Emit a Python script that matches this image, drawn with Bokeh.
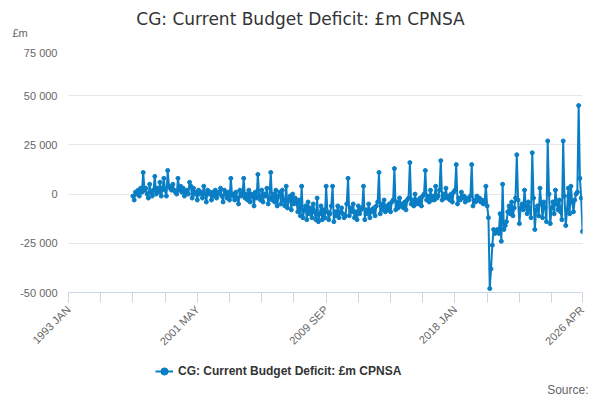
from bokeh.plotting import figure
from bokeh.layouts import column
from bokeh.models import FixedTicker, Legend, LegendItem, Label, CustomJSTickFormatter
from bokeh.embed import file_html
from bokeh.resources import INLINE

# monthly values (thousands of £m), Mar 1997 .. Apr 2026
start_year, start_month = 1997, 3
y1997 = [-1, -3, 1, 0, 2, -1, 3, 1, 11, 2]
y1998 = [3, 0, -2, 5, 1, -1, 2, 9, 0, 3, 1, 6]
y1999 = [-1, 3, 8, 2, -1, 12, 4, 3, 2, 5, 2, 1]
y2000 = [0, 8, 2, 4, 1, 3, -1, 1, 2, 0, 6, 4]
y2001 = [-2, 3, 0, 1, -3, 2, 0, 1, -2, 4, 0, -4]
y2002 = [2, 0, 1, -3, 1, -1, 2, -2, 0, 1, 3, -1]
y2003 = [-4, 2, 0, -2, 1, -3, 8, -1, 0, -3, 1, -2]
y2004 = [-5, 2, -1, 0, 8, -2, 0, -3, 2, -4, 0, -1]
y2005 = [-6, 1, -2, 10, -1, -3, 2, -4, 0, -1, 3, -5]
y2006 = [-2, 11, -3, 0, -4, 2, -6, -1, 1, -5, 2, -3]
y2007 = [-6, 4, -7, -3, -1, -8, 0, -5, -2, -4, -9, -3]
y2008 = [-11, 4, -12, -8, -6, -13, -4, -10, -7, -12, -5, -9]
y2009 = [-13, -2, -14, -10, -6, -13, -8, -12, 4, -9, -13, -10]
y2010 = [-6, 4, -14, -9, -11, -6, -12, -9, -7, -10, -12, -11]
y2011 = [-5, 8, -11, -7, -9, -5, -12, -9, -13, -6, -10, -8]
y2012 = [-7, 4, -13, -8, -10, -5, -12, -8, -9, -7, -11, -6]
y2013 = [-4, 11, -10, -5, -8, -3, -9, -6, -8, -5, -9, -4]
y2014 = [-3, 13, -8, -4, -7, -2, -6, -5, -7, -4, -8, -3]
y2015 = [-2, 16, -5, -3, -6, 0, -5, -3, -5, -2, -6, -1]
y2016 = [0, 12, -3, -1, -4, 2, -3, -1, -3, 4, -2, -1]
y2017 = [2, 17, -3, 0, -2, 3, -2, -1, -3, 0, -4, 1]
y2018 = [2, 15, -5, -2, -3, 1, -2, -1, -4, -2, -3, -3]
y2019 = [-1, 15, -6, -3, -4, -1, -3, -2, -4, -3, -5, -4]
y2020 = [4, -6, -12, -48, -38, -26, -18, -20, -19, -18, -20, -10]
y2021 = [-24, 5, -18, -16, -14, -9, -6, -10, -4, -11, -7, -2]
y2022 = [20, -3, -15, -7, -5, -8, 2, -6, -10, -4, -8, -12]
y2023 = [21, -2, -18, -8, -6, -11, 3, -5, -12, -4, -7, -14]
y2024 = [27, 0, -15, -7, -4, -10, 2, -5, -8, -3, -9, -13]
y2025 = [27, -1, -16, -8, 3, -10, 4, -4, -9, -3, 0, 1]
y2026 = [45, 8, -2, -19]

series = (y1997 + y1998 + y1999 + y2000 + y2001 + y2002 + y2003 + y2004 + y2005 + y2006
          + y2007 + y2008 + y2009 + y2010 + y2011 + y2012 + y2013 + y2014 + y2015
          + y2016 + y2017 + y2018 + y2019 + y2020 + y2021 + y2022 + y2023 + y2024
          + y2025 + y2026)
values = [v * 1000 for v in series]

tick_labels = {0: "1993 JAN", 100: "2001 MAY", 200: "2009 SEP", 300: "2018 JAN", 399: "2026 APR"}
offset = (start_year - 1993) * 12 + (start_month - 1)
xs = [offset + i for i in range(len(values))]

blue = "#0a7ec4"


def strip(height):
    f = figure(width=600, height=height, x_range=(0, 1), y_range=(0, 1), output_backend="svg",
               toolbar_location=None, min_border=0, frame_align=False)
    f.axis.visible = False
    f.grid.grid_line_color = None
    f.outline_line_color = None
    return f


# title strip
top = strip(46)
top.add_layout(Label(x=300, y=28, x_units="screen", y_units="screen",
                     text="CG: Current Budget Deficit: £m CPNSA", text_align="center",
                     text_baseline="middle", text_font="DejaVu Sans", text_font_size="17px",
                     text_color="#333333"))
top.add_layout(Label(x=12, y=14, x_units="screen", y_units="screen", text="£m",
                     text_baseline="middle", text_font_size="11px", text_color="#666666"))

p = figure(width=600, height=314, x_range=(0, 399), y_range=(-50000, 75000),
           output_backend="svg", toolbar_location=None, frame_align=False,
           min_border_left=68, min_border_right=18, min_border_top=0, min_border_bottom=68)

p.line(xs, values, line_color=blue, line_width=2)
p.scatter(xs, values, size=4, color=blue)

p.xaxis.ticker = FixedTicker(ticks=list(tick_labels.keys()), minor_ticks=list(range(0, 400, 25)))
p.xaxis.major_label_overrides = tick_labels
p.xaxis.major_label_orientation = 0.785
p.xaxis.major_label_text_color = "#666666"
p.xaxis.major_label_text_font_size = "11px"
p.xaxis.axis_line_color = "#ccd6eb"
p.xaxis.major_tick_line_color = "#ccd6eb"
p.xaxis.minor_tick_line_color = "#ccd6eb"
p.xaxis.minor_tick_out = 10
p.xaxis.major_tick_out = 10
p.xaxis.minor_tick_in = 0
p.xaxis.major_tick_in = 0
p.xgrid.grid_line_color = None

p.yaxis.ticker = FixedTicker(ticks=[-50000, -25000, 0, 25000, 50000, 75000])
p.yaxis.formatter = CustomJSTickFormatter(code="return tick.toString().replace(/\\B(?=(\\d{3})+(?!\\d))/g, ' ');")
p.yaxis.major_label_text_color = "#666666"
p.yaxis.major_label_text_font_size = "11px"
p.yaxis.axis_line_color = None
p.yaxis.major_tick_line_color = None
p.yaxis.minor_tick_line_color = None
p.ygrid.grid_line_color = "#e6e6e6"
p.outline_line_color = None

# legend strip underneath
lf = strip(40)
l1 = lf.line([-5, -4], [-5, -4], line_color=blue, line_width=2)
l2 = lf.scatter([-5], [-5], size=4, color=blue)
legend = Legend(items=[LegendItem(label="CG: Current Budget Deficit: £m CPNSA", renderers=[l1, l2])],
                location=(155, 19), orientation="horizontal", border_line_color=None,
                background_fill_alpha=0, padding=0, margin=0, glyph_width=18,
                label_text_font_style="bold", label_text_font_size="12px", label_text_color="#333333")
lf.add_layout(legend)
lf.add_layout(Label(x=588, y=11, x_units="screen", y_units="screen", text="Source:",
                    text_align="right", text_baseline="middle",
                    text_font_size="12px", text_color="#666666"))

open("out.html", "w").write(file_html(column(top, p, lf, spacing=0), INLINE))
